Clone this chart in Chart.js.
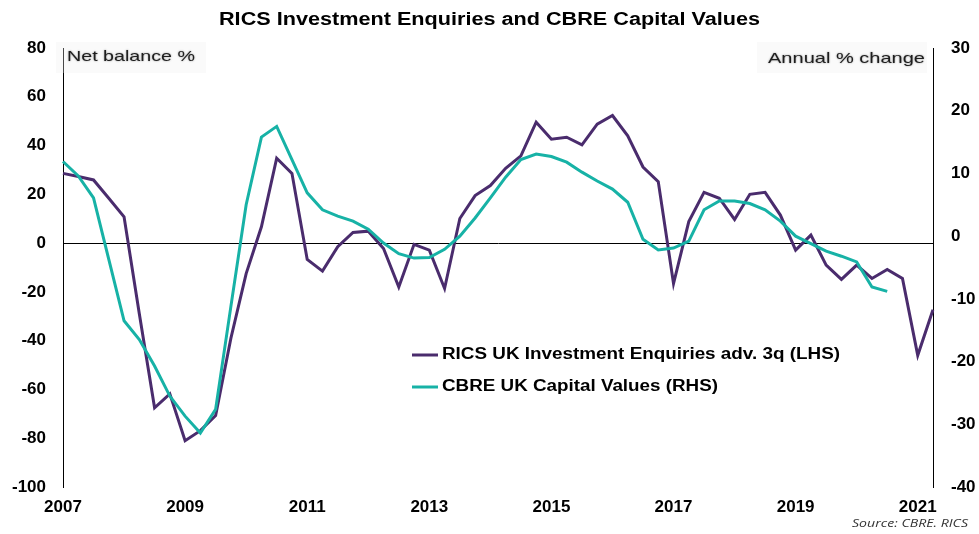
<!DOCTYPE html>
<html>
<head>
<meta charset="utf-8">
<title>RICS Investment Enquiries and CBRE Capital Values</title>
<script src="https://cdn.jsdelivr.net/npm/chart.js@4"></script>
<style>
  html, body { margin: 0; padding: 0; background: #fff; }
  #wrap { width: 979px; height: 534px; position: relative; }
</style>
</head>
<body>
<div id="wrap"><canvas id="chart"></canvas></div>
<script>
// quarterly categories, 2007 Q1 .. 2021 Q2
var quarters = [
  '2007Q1','2007Q2','2007Q3','2007Q4','2008Q1','2008Q2','2008Q3','2008Q4',
  '2009Q1','2009Q2','2009Q3','2009Q4','2010Q1','2010Q2','2010Q3','2010Q4',
  '2011Q1','2011Q2','2011Q3','2011Q4','2012Q1','2012Q2','2012Q3','2012Q4',
  '2013Q1','2013Q2','2013Q3','2013Q4','2014Q1','2014Q2','2014Q3','2014Q4',
  '2015Q1','2015Q2','2015Q3','2015Q4','2016Q1','2016Q2','2016Q3','2016Q4',
  '2017Q1','2017Q2','2017Q3','2017Q4','2018Q1','2018Q2','2018Q3','2018Q4',
  '2019Q1','2019Q2','2019Q3','2019Q4','2020Q1','2020Q2','2020Q3','2020Q4',
  '2021Q1','2021Q2'
];

// years shown on the x axis
var yearTicks = ['2007', '2009', '2011', '2013', '2015', '2017', '2019', '2021'];

// RICS UK Investment Enquiries adv. 3q, net balance % (LHS)
var ricsEnquiries = [
  28.6, 27.3, 25.9, 18.4, 10.8, -29, -67.5, -61.8,
  -81, -76.9, -70.7, -39, -12.5, 6.7, 34.8, 28.6,
  -6.7, -11.5, -1.5, 4.4, 4.9, -2.2, -18, -0.5,
  -2.9, -18.6, 10.1, 19.5, 23.6, 30.7, 35.8, 49.6,
  42.6, 43.4, 40.3, 48.8, 52.3, 44, 31.2, 25.2,
  -16.6, 8.8, 20.8, 18.4, 9.7, 20, 20.8, 11.5,
  -2.9, 3.3, -9, -14.9, -9, -14.5, -10.8, -14.5,
  -46, -27.3
];

// CBRE UK Capital Values, annual % change (RHS)
var cbreCapital = [
  11.9, 9.6, 6.1, -3.7, -13.5, -16.5, -20.7, -25.5,
  -28.7, -31.4, -27.6, -11.2, 5.0, 15.8, 17.5, 12.2,
  6.9, 4.2, 3.2, 2.4, 1.1, -1.1, -2.8, -3.5,
  -3.4, -2.1, 0, 2.9, 6.1, 9.4, 12.2, 13.1,
  12.7, 11.8, 10.2, 8.8, 7.5, 5.4, -0.5, -2.2,
  -1.9, -0.8, 4.2, 5.6, 5.6, 5.2, 4.2, 2.4,
  0, -1.2, -2.4, -3.2, -4.1, -8.1, -8.8
];

var leftTicks = [-100, -80, -60, -40, -20, 0, 20, 40, 60, 80];
var rightTicks = [-40, -30, -20, -10, 0, 10, 20, 30];

var PURPLE = '#4a2c6d';
var TEAL = '#17b2a6';

Chart.defaults.font.family = '"Liberation Sans", Arial, sans-serif';
Chart.defaults.color = '#000';

// draw text squeezed/stretched to a given width
function fitText(ctx, text, x, y, w, align) {
    var m = ctx.measureText(text).width;
    ctx.save();
    ctx.translate(x, y);
    ctx.scale(w / m, 1);
    ctx.textAlign = align;
    ctx.fillText(text, 0, 0);
    ctx.restore();
}

var extras = {
    id: 'extras',
    afterDraw: function(chart) {
        var c = chart.ctx;
        c.save();
        c.textBaseline = 'middle';

        // title
        c.fillStyle = '#000';
        c.font = 'bold 18px "Liberation Sans", Arial, sans-serif';
        fitText(c, 'RICS Investment Enquiries and CBRE Capital Values', 489.5, 20, 541, 'center');

        // axis captions (faint backing boxes)
        c.fillStyle = 'rgba(240,240,240,0.3)';
        c.fillRect(56, 42, 150, 31);
        c.fillRect(757, 42, 170, 31);
        c.fillStyle = '#1e1e1e';
        c.font = '15px "Liberation Sans", Arial, sans-serif';
        c.shadowColor = 'rgba(0,0,0,0.45)';
        c.shadowBlur = 2;
        fitText(c, 'Net balance %', 67, 57, 128, 'left');
        fitText(c, 'Annual % change', 925, 59, 157, 'right');
        c.shadowBlur = 0;
        c.shadowColor = 'transparent';

        // legend
        var rows = [
            { text: 'RICS UK Investment Enquiries adv. 3q (LHS)', color: PURPLE, y: 355, w: 398 },
            { text: 'CBRE UK Capital Values (RHS)', color: TEAL, y: 387, w: 276 }
        ];
        c.font = 'bold 16px "Liberation Sans", Arial, sans-serif';
        rows.forEach(function(r) {
            c.strokeStyle = r.color;
            c.lineWidth = 3;
            c.beginPath();
            c.moveTo(412, r.y);
            c.lineTo(438, r.y);
            c.stroke();
            c.fillStyle = '#000';
            fitText(c, r.text, 442, r.y, r.w, 'left');
        });

        // source
        c.fillStyle = '#333';
        c.font = 'italic 11px "Open Sans", sans-serif';
        fitText(c, 'Source: CBRE. RICS', 968, 524, 116, 'right');
        c.restore();
    }
};

new Chart(document.getElementById('chart'), {
    type: 'line',
    data: {
        labels: quarters,
        datasets: [
            {
                label: 'RICS UK Investment Enquiries adv. 3q (LHS)',
                data: ricsEnquiries,
                yAxisID: 'y',
                borderColor: PURPLE,
                borderWidth: 3,
                pointRadius: 0,
                tension: 0,
                order: 1
            },
            {
                label: 'CBRE UK Capital Values (RHS)',
                data: cbreCapital,
                yAxisID: 'y2',
                borderColor: TEAL,
                borderWidth: 3,
                pointRadius: 0,
                tension: 0,
                order: 0
            }
        ]
    },
    options: {
        responsive: true,
        maintainAspectRatio: false,
        animation: false,
        layout: { padding: { top: 48, left: 0, right: 0, bottom: 0 } },
        plugins: {
            legend: { display: false },
            title: { display: false },
            tooltip: { enabled: false }
        },
        scales: {
            x: {
                type: 'category',
                offset: false,
                grid: { display: false, drawTicks: false },
                border: { display: false },
                ticks: {
                    autoSkip: false,
                    maxRotation: 0,
                    padding: 10,
                    font: { size: 17, weight: 'bold' },
                    callback: function(val, idx) {
                        var q = quarters[idx];
                        var yr = q.slice(0, 4);
                        return (q.slice(4) === 'Q1' && yearTicks.indexOf(yr) >= 0) ? yr : '';
                    }
                },
                afterFit: function(s) { s.height = 47; }
            },
            y: {
                position: 'left',
                min: leftTicks[0],
                max: leftTicks[leftTicks.length - 1],
                afterBuildTicks: function(s) {
                    s.ticks = leftTicks.map(function(v) { return { value: v }; });
                },
                grid: {
                    drawTicks: false,
                    lineWidth: 1,
                    color: function(ctx) { return ctx.tick && ctx.tick.value === 0 ? '#000' : 'rgba(0,0,0,0)'; }
                },
                border: { display: true, color: '#000', width: 1 },
                ticks: { padding: 17, font: { size: 17, weight: 'bold' } },
                afterFit: function(s) { s.width = 63; }
            },
            y2: {
                position: 'right',
                min: rightTicks[0],
                max: rightTicks[rightTicks.length - 1],
                afterBuildTicks: function(s) {
                    s.ticks = rightTicks.map(function(v) { return { value: v }; });
                },
                grid: { display: false, drawTicks: false },
                border: { display: true, color: '#000', width: 1 },
                ticks: { padding: 18, font: { size: 17, weight: 'bold' } },
                afterFit: function(s) { s.width = 46; }
            }
        }
    },
    plugins: [extras]
});
</script>
</body>
</html>
